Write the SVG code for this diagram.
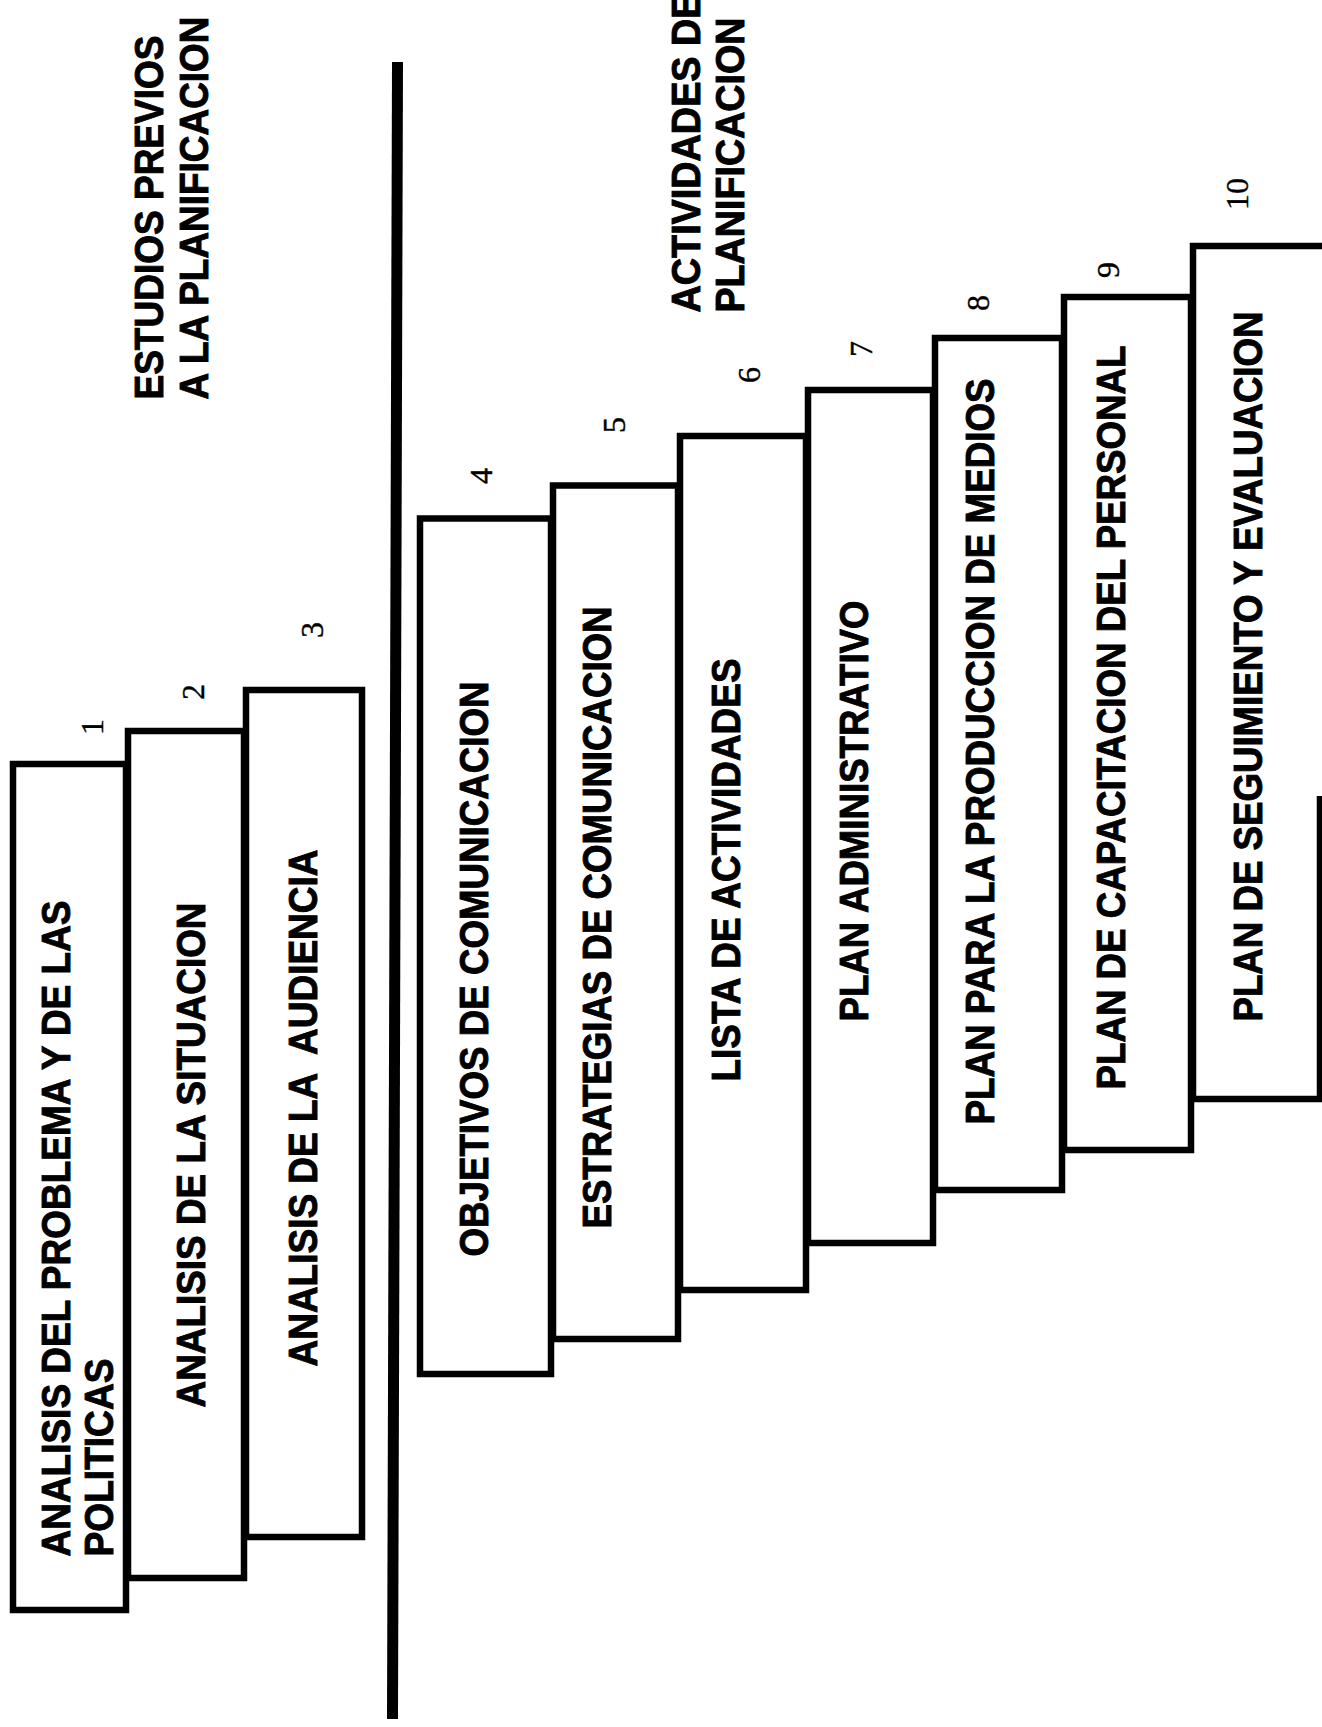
<svg xmlns="http://www.w3.org/2000/svg" width="1322" height="1727" viewBox="0 0 1322 1727">
  <style>
    .box { fill: none; stroke: #000; stroke-width: 6.5; stroke-linejoin: miter; }
    .lbl { font-family: "Liberation Sans", Arial, Helvetica, sans-serif; font-weight: 700; font-size: 40px; fill: #000; stroke: #000; stroke-width: 0.9; }
    .num { font-family: "Liberation Serif", "Times New Roman", serif; font-size: 32px; fill: #000; stroke: #000; stroke-width: 0.4; }
    .divider { stroke: #000; stroke-width: 11; fill: none; }
  </style>
  <rect x="0" y="0" width="1322" height="1727" fill="#fff"/>

  <!-- phase headings, set vertically -->
  <g id="heading-estudios">
    <text class="lbl" transform="translate(163,399.5) rotate(-90)" textLength="364" lengthAdjust="spacingAndGlyphs">ESTUDIOS PREVIOS</text>
    <text class="lbl" transform="translate(208,399.5) rotate(-90)" textLength="383" lengthAdjust="spacingAndGlyphs">A LA PLANIFICACION</text>
  </g>
  <g id="heading-actividades">
    <text class="lbl" transform="translate(700,312.5) rotate(-90)" textLength="319" lengthAdjust="spacingAndGlyphs">ACTIVIDADES DE</text>
    <text class="lbl" transform="translate(744,312.5) rotate(-90)" textLength="295" lengthAdjust="spacingAndGlyphs">PLANIFICACION</text>
  </g>

  <!-- vertical rule separating the two phases -->
  <g id="connectors">
    <line class="divider" x1="397.5" y1="62" x2="392.5" y2="1719"/>
  </g>

  <!-- steps 1-3 -->
  <g id="step-1">
    <rect class="box" x="13" y="764" width="113" height="846"/>
    <text class="lbl" transform="translate(70,1556.5) rotate(-90)" textLength="656" lengthAdjust="spacingAndGlyphs">ANALISIS DEL PROBLEMA Y DE LAS</text>
    <text class="lbl" transform="translate(113,1556.5) rotate(-90)" textLength="198" lengthAdjust="spacingAndGlyphs">POLITICAS</text>
    <text class="num" transform="translate(92,727) rotate(-90)" text-anchor="middle" dominant-baseline="central">1</text>
  </g>
  <g id="step-2">
    <rect class="box" x="128" y="731" width="116" height="847"/>
    <text class="lbl" transform="translate(205,1407.5) rotate(-90)" textLength="505" lengthAdjust="spacingAndGlyphs">ANALISIS DE LA SITUACION</text>
    <text class="num" transform="translate(193,692) rotate(-90)" text-anchor="middle" dominant-baseline="central">2</text>
  </g>
  <g id="step-3">
    <rect class="box" x="246" y="690" width="116" height="847"/>
    <text class="lbl" xml:space="preserve" transform="translate(317,1366.5) rotate(-90)" textLength="517" lengthAdjust="spacingAndGlyphs">ANALISIS DE LA  AUDIENCIA</text>
    <text class="num" transform="translate(312,630) rotate(-90)" text-anchor="middle" dominant-baseline="central">3</text>
  </g>

  <!-- steps 4-10 -->
  <g id="step-4">
    <rect class="box" x="420" y="518.5" width="131" height="855.5"/>
    <text class="lbl" transform="translate(488,1256.5) rotate(-90)" textLength="575" lengthAdjust="spacingAndGlyphs">OBJETIVOS DE COMUNICACION</text>
    <text class="num" transform="translate(481,476) rotate(-90)" text-anchor="middle" dominant-baseline="central">4</text>
  </g>
  <g id="step-5">
    <rect class="box" x="553" y="485.5" width="125" height="853.5"/>
    <text class="lbl" transform="translate(611,1228.5) rotate(-90)" textLength="622" lengthAdjust="spacingAndGlyphs">ESTRATEGIAS DE COMUNICACION</text>
    <text class="num" transform="translate(614,425) rotate(-90)" text-anchor="middle" dominant-baseline="central">5</text>
  </g>
  <g id="step-6">
    <rect class="box" x="680" y="436" width="126" height="854"/>
    <text class="lbl" transform="translate(740,1081.5) rotate(-90)" textLength="423" lengthAdjust="spacingAndGlyphs">LISTA DE ACTIVIDADES</text>
    <text class="num" transform="translate(749,375) rotate(-90)" text-anchor="middle" dominant-baseline="central">6</text>
  </g>
  <g id="step-7">
    <rect class="box" x="808" y="390" width="125" height="853"/>
    <text class="lbl" transform="translate(868,1021.5) rotate(-90)" textLength="421" lengthAdjust="spacingAndGlyphs">PLAN ADMINISTRATIVO</text>
    <text class="num" transform="translate(861,349) rotate(-90)" text-anchor="middle" dominant-baseline="central">7</text>
  </g>
  <g id="step-8">
    <rect class="box" x="935" y="338" width="127" height="852"/>
    <text class="lbl" transform="translate(994,1124.5) rotate(-90)" textLength="746" lengthAdjust="spacingAndGlyphs">PLAN PARA LA PRODUCCION DE MEDIOS</text>
    <text class="num" transform="translate(978,303) rotate(-90)" text-anchor="middle" dominant-baseline="central">8</text>
  </g>
  <g id="step-9">
    <rect class="box" x="1064" y="297" width="127" height="853"/>
    <text class="lbl" transform="translate(1125,1089.5) rotate(-90)" textLength="744" lengthAdjust="spacingAndGlyphs">PLAN DE CAPACITACION DEL PERSONAL</text>
    <text class="num" transform="translate(1108,270) rotate(-90)" text-anchor="middle" dominant-baseline="central">9</text>
  </g>
  <g id="step-10">
    <path class="box" d="M1325,246 H1193 V1099 H1320 V796"/>
    <text class="lbl" transform="translate(1262,1021.5) rotate(-90)" textLength="710" lengthAdjust="spacingAndGlyphs">PLAN DE SEGUIMIENTO Y EVALUACION</text>
    <text class="num" transform="translate(1237,194) rotate(-90)" text-anchor="middle" dominant-baseline="central">10</text>
  </g>
</svg>
